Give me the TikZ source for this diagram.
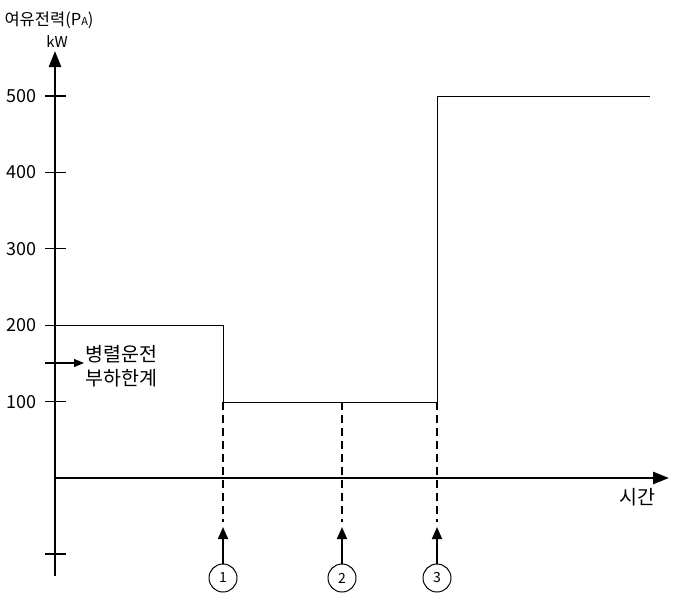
\documentclass[tikz,border=0pt]{standalone}
\usepackage{fontspec}
\setmainfont{Noto Sans CJK KR}
\usetikzlibrary{arrows.meta}

\begin{document}
\begin{tikzpicture}[x=1pt,y=-1pt,
	axis/.style={line width=2.6pt},
	tickmark/.style={line width=1.1pt},
	level/.style={line width=0.9pt},
	guide/.style={line width=1.1pt,dash pattern=on 8pt off 5pt},
	pointer/.style={line width=1.8pt,-{Triangle[length=12pt,width=10pt]}},
	event/.style={draw,circle,line width=1pt,minimum size=28pt,inner sep=0pt,font=\fontsize{14}{14}\selectfont},
	every node/.style={font=\fontsize{18}{18}\selectfont}]
		\useasboundingbox (0,0) rectangle (674,597);
		%%%%% AXES %%%%%
		\coordinate (origin) at (55,478);
		\coordinate (ytop) at (55,51);
		\coordinate (ybot) at (55,576);
		\coordinate (xend) at (669,478);
		\draw[axis,-{Triangle[length=16pt,width=12pt]}] (ybot) -- (ytop);
		\draw[axis,-{Triangle[length=16pt,width=12pt]}] (origin) -- (xend);
		
		\node[anchor=west,font=\fontsize{16.5}{16.5}\selectfont] (title) at (1,20) {여유전력(P{\fontsize{11}{11}\selectfont A})};
		\node[font=\fontsize{15}{15}\selectfont] (unit) at (57,42) {kW};
		\node[font=\fontsize{19.5}{19.5}\selectfont] (time) at (637,497) {시간};
		
		%%%%% TICKS %%%%%
		\foreach \v in {500,400,300,200,100} {
			\draw[tickmark] (45,{478-0.764*\v}) -- (66,{478-0.764*\v});
			\node[anchor=east] (n\v) at (40,{478-0.764*\v}) {\v};
		}
		\draw[tickmark] (45,554) -- (66,554);
		
		%%%%% LIMIT %%%%%
		\coordinate (lim) at (45,363);
		\node[anchor=west,align=left,inner sep=1pt,font=\fontsize{19.5}{24}\selectfont] (limit) at (84,366) {병렬운전\\부하한계};
		\draw[line width=1.1pt,-{Triangle[length=10pt,width=8pt]}] (lim) -- (lim -| limit.west);
		
		%%%%% STEP %%%%%
		\coordinate (s0) at (55,325);
		\coordinate (s1) at (223,325);
		\coordinate (s2) at (223,402);
		\coordinate (s3) at (437,402);
		\coordinate (s4) at (437,96);
		\coordinate (s5) at (650,96);
		\draw[level] (s0) -- (s1) -- (s2) -- (s3) -- (s4) -- (s5);
		
		%%%%% EVENTS %%%%%
		\foreach \i/\x in {1/223,2/342,3/437} {
			\coordinate (d\i) at (\x,402);
			\coordinate (e\i) at (\x,522);
			\coordinate (t\i) at (\x,527);
			\draw[guide] (d\i) -- (e\i);
			\node[event] (c\i) at (\x,578) {\i};
			\draw[pointer] (c\i) -- (t\i);
		}
	\end{tikzpicture}
\end{document}
